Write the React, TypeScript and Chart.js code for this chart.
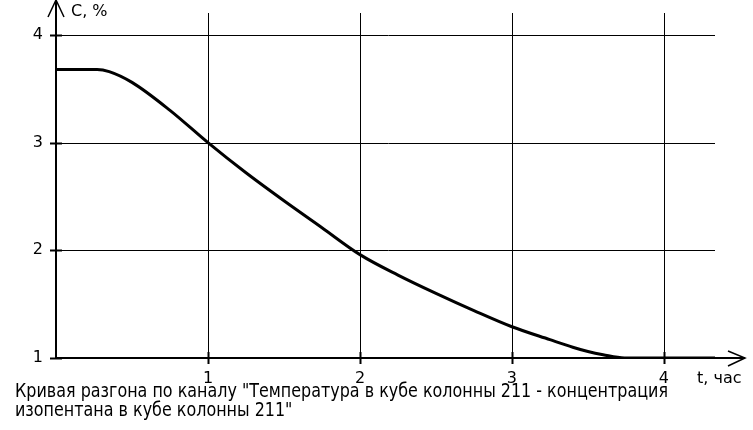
import React, { useEffect, useRef } from "react";
import { Chart, registerables } from "chart.js";

Chart.register(...registerables);

// Data
const timeHours = [0, 0.27, 0.35, 0.5, 0.75, 1.0, 1.25, 1.5, 1.75, 2.0, 2.25, 2.5, 2.75, 3.0, 3.25, 3.4, 3.5, 3.6, 3.74, 4.0, 4.34];
const concentration = [3.68, 3.68, 3.66, 3.56, 3.3, 3.0, 2.72, 2.46, 2.21, 1.96, 1.77, 1.6, 1.44, 1.29, 1.17, 1.1, 1.06, 1.03, 1.0, 1.0, 1.0];

const xTickValues = [1, 2, 3, 4];
const yTickValues = [1, 2, 3, 4];
const yGridValues = [2, 3, 4];
const xAxisLabel = "t, час";
const yAxisLabel = "C, %";
const captionLines = [
  "Кривая разгона по каналу \"Температура в кубе колонны 211 - концентрация",
  "изопентана в кубе колонны 211\"",
];

const X_MIN = 0;
const X_MAX = 4.336;
const Y_MIN = 1;
const Y_MAX = 4.204;

const tickFont = "16px 'DejaVu Sans', Verdana, sans-serif";
const captionFont = "19px 'DejaVu Sans Condensed', 'Liberation Sans Narrow', sans-serif";
const CAPTION_WIDTH = 653;

const axesPlugin = {
  id: "customAxes",
  beforeDatasetsDraw(chart: any) {
    const { ctx, chartArea } = chart;
    const xs = chart.scales.x;
    const ys = chart.scales.y;
    const x0 = Math.round(xs.getPixelForValue(0));
    const y0 = Math.round(ys.getPixelForValue(1));
    ctx.save();
    ctx.strokeStyle = "#000";
    ctx.lineWidth = 1;
    yGridValues.forEach((v) => {
      const y = Math.round(ys.getPixelForValue(v)) + 0.5;
      ctx.beginPath();
      ctx.moveTo(x0 + 6, y);
      ctx.lineTo(chartArea.right, y);
      ctx.stroke();
    });
    xTickValues.forEach((v) => {
      const x = Math.round(xs.getPixelForValue(v)) + 0.5;
      ctx.beginPath();
      ctx.moveTo(x, chartArea.top);
      ctx.lineTo(x, y0);
      ctx.stroke();
    });
    ctx.lineWidth = 2;
    ctx.beginPath();
    ctx.moveTo(x0, y0 + 1);
    ctx.lineTo(x0, 1);
    ctx.stroke();
    ctx.beginPath();
    ctx.moveTo(x0 - 1, y0);
    ctx.lineTo(745, y0);
    ctx.stroke();
    ctx.lineWidth = 1.5;
    ctx.beginPath();
    ctx.moveTo(x0 - 8, 17);
    ctx.lineTo(x0, 0);
    ctx.lineTo(x0 + 8, 17);
    ctx.stroke();
    ctx.beginPath();
    ctx.moveTo(728, y0 - 7);
    ctx.lineTo(745, y0);
    ctx.lineTo(728, y0 + 8);
    ctx.stroke();
    ctx.lineWidth = 2;
    yTickValues.forEach((v) => {
      const y = Math.round(ys.getPixelForValue(v)) + 0.5;
      ctx.beginPath();
      ctx.moveTo(x0 - 6, y);
      ctx.lineTo(x0 + 6, y);
      ctx.stroke();
    });
    xTickValues.forEach((v) => {
      const x = Math.round(xs.getPixelForValue(v)) + 0.5;
      ctx.beginPath();
      ctx.moveTo(x, y0 - 6);
      ctx.lineTo(x, y0 + 6);
      ctx.stroke();
    });
    ctx.restore();
  },
  afterDraw(chart: any) {
    const { ctx } = chart;
    const xs = chart.scales.x;
    const ys = chart.scales.y;
    const x0 = xs.getPixelForValue(0);
    const y0 = ys.getPixelForValue(1);
    ctx.save();
    ctx.fillStyle = "#000";
    ctx.font = tickFont;
    ctx.textBaseline = "middle";
    ctx.textAlign = "right";
    yTickValues.forEach((v) => {
      ctx.fillText(String(v), x0 - 13, ys.getPixelForValue(v));
    });
    ctx.textAlign = "center";
    ctx.textBaseline = "alphabetic";
    xTickValues.forEach((v) => {
      ctx.fillText(String(v), xs.getPixelForValue(v), y0 + 25);
    });
    ctx.textAlign = "left";
    ctx.fillText(xAxisLabel, 697, y0 + 25);
    ctx.fillText(yAxisLabel, x0 + 15, 16);
    ctx.font = captionFont;
    const w = ctx.measureText(captionLines[0]).width;
    const sx = w > 0 ? CAPTION_WIDTH / w : 1;
    captionLines.forEach((line, i) => {
      ctx.save();
      ctx.translate(15, 397 + i * 19);
      ctx.scale(sx, 1);
      ctx.fillText(line, 0, 0);
      ctx.restore();
    });
    ctx.restore();
  },
};

export default function App() {
  const canvasRef = useRef<HTMLCanvasElement | null>(null);

  useEffect(() => {
    if (!canvasRef.current) return;
    const chart = new Chart(canvasRef.current, {
      type: "line",
      data: {
        datasets: [
          {
            data: timeHours.map((t, i) => ({ x: t, y: concentration[i] })),
            borderColor: "#000",
            borderWidth: 3,
            pointRadius: 0,
            cubicInterpolationMode: "monotone",
            fill: false,
          },
        ],
      },
      options: {
        animation: false,
        responsive: false,
        maintainAspectRatio: false,
        layout: { padding: { left: 56, right: 38, top: 13, bottom: 72 } },
        plugins: { legend: { display: false }, tooltip: { enabled: false } },
        scales: {
          x: { type: "linear", min: X_MIN, max: X_MAX, display: false },
          y: { type: "linear", min: Y_MIN, max: Y_MAX, display: false },
        },
      },
      plugins: [axesPlugin],
    });
    return () => chart.destroy();
  }, []);

  return (
    <div style={{ position: "absolute", left: 0, top: 0, width: 753, height: 430, background: "#fff" }}>
      <canvas ref={canvasRef} width={753} height={430} style={{ width: 753, height: 430, display: "block" }} />
    </div>
  );
}
